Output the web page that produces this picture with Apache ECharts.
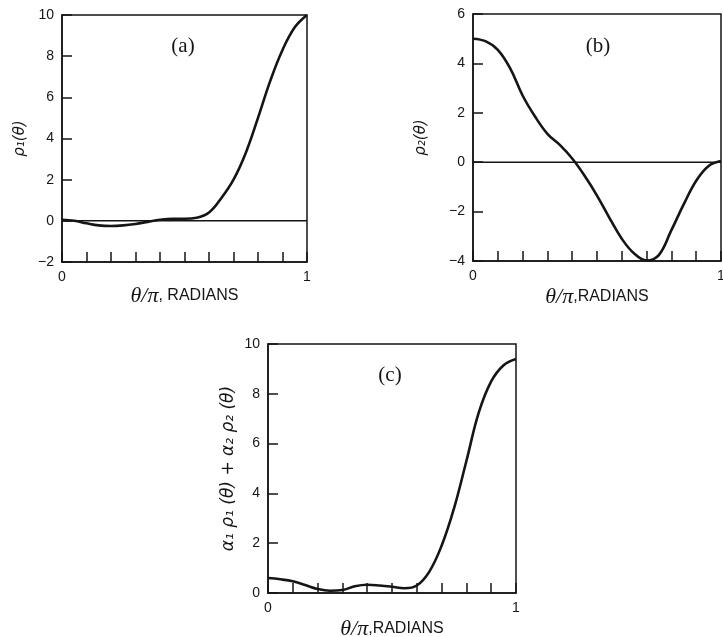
<!DOCTYPE html>
<html>
<head>
<meta charset="utf-8">
<script src="https://cdn.jsdelivr.net/npm/echarts/dist/echarts.min.js"></script>
<style>
html,body{margin:0;padding:0;background:#fff;}
#chart{width:723px;height:637px;}
</style>
</head>
<body>
<div id="chart"></div>
<script>
// ---- data ----
var thetaOverPi = [0, 0.05, 0.1, 0.15, 0.2, 0.25, 0.3, 0.35, 0.4, 0.45, 0.5,
                   0.55, 0.6, 0.65, 0.7, 0.75, 0.8, 0.85, 0.9, 0.95, 1.0];
var p1Values = [0.05, 0.0, -0.12, -0.22, -0.25, -0.22, -0.15, -0.05, 0.05, 0.1, 0.1,
                0.15, 0.4, 1.1, 2.0, 3.3, 5.0, 6.8, 8.3, 9.4, 10.0];
var p2Values = [5.0, 4.9, 4.55, 3.8, 2.7, 1.85, 1.15, 0.7, 0.15, -0.55, -1.35,
                -2.25, -3.1, -3.7, -3.98, -3.75, -2.75, -1.7, -0.75, -0.15, 0.05];
var comboValues = [0.6, 0.55, 0.47, 0.32, 0.16, 0.09, 0.12, 0.27, 0.33, 0.3, 0.25,
                   0.19, 0.3, 0.85, 1.9, 3.4, 5.3, 7.25, 8.5, 9.15, 9.4];
var panelLabels = ['(a)', '(b)', '(c)'];
var yNames = ['ρ₁(θ)', 'ρ₂(θ)', 'α₁ ρ₁ (θ) + α₂ ρ₂ (θ)'];
var yRanges = [[-2, 10], [-4, 6], [0, 10]];

function pairs(xs, ys) { return xs.map(function (x, i) { return [x, ys[i]]; }); }

var ink = '#151515';
var tickFont = { color: ink, fontFamily: 'Liberation Sans, Arial, sans-serif', fontSize: 14 };

var grids = [
  { left: 62, top: 15, width: 245, height: 247 },
  { left: 473, top: 14, width: 248, height: 247 },
  { left: 268, top: 344, width: 248, height: 249 }
];
grids.forEach(function (g) {
  g.show = true; g.borderColor = ink; g.borderWidth = 1.5; g.backgroundColor = '#fff';
  g.containLabel = false; g.outerBoundsMode = 'none';
});

var xNameGaps = [23, 25, 25];
var xNames = ['{t|θ/π}{r|, RADIANS}', '{t|θ/π}{r|,RADIANS}', '{t|θ/π}{r|,RADIANS}'];
var yNameGaps = [34, 44, 31];
var yNameSizes = [15, 15, 17];

var xAxes = [0, 1, 2].map(function (i) {
  return {
    type: 'value', gridIndex: i, min: 0, max: 1, interval: 0.1,
    name: xNames[i], nameLocation: 'middle', nameGap: xNameGaps[i],
    nameTextStyle: {
      color: ink,
      rich: {
        t: { fontFamily: 'Liberation Serif, serif', fontStyle: 'italic', fontSize: 22, color: ink },
        r: { fontFamily: 'Liberation Sans, Arial, sans-serif', fontSize: 16, color: ink }
      }
    },
    axisLine: { onZero: false, lineStyle: { color: ink, width: 1.5 } },
    axisTick: { inside: true, length: 10, lineStyle: { color: ink, width: 1.5 } },
    axisLabel: Object.assign({ margin: 8, formatter: function (v) {
      if (Math.abs(v) < 1e-9) return '0';
      if (Math.abs(v - 1) < 1e-9) return '1';
      return '';
    } }, tickFont),
    splitLine: { show: false }
  };
});

var yAxes = [0, 1, 2].map(function (i) {
  return {
    type: 'value', gridIndex: i, min: yRanges[i][0], max: yRanges[i][1], interval: 2,
    name: yNames[i], nameLocation: 'middle', nameGap: yNameGaps[i], nameRotate: 90,
    nameTextStyle: { color: ink, fontFamily: 'DejaVu Sans, sans-serif', fontSize: yNameSizes[i], fontStyle: 'italic' },
    axisLine: { onZero: false, lineStyle: { color: ink, width: 1.5 } },
    axisTick: { inside: true, length: 10, lineStyle: { color: ink, width: 1.5 } },
    axisLabel: Object.assign({ margin: 8, formatter: function (v) { return String(v).replace('-', '\u2212'); } }, tickFont),
    splitLine: { show: false }
  };
});

function curve(i, values) {
  return {
    type: 'line', xAxisIndex: i, yAxisIndex: i, data: pairs(thetaOverPi, values),
    smooth: 0.4, showSymbol: false, symbol: 'none',
    lineStyle: { color: ink, width: 2.6 }, z: 5
  };
}
function zeroLine(i) {
  return {
    type: 'line', xAxisIndex: i, yAxisIndex: i, data: [[0, 0], [1, 0]],
    showSymbol: false, symbol: 'none', lineStyle: { color: ink, width: 1.5 }, z: 4
  };
}

var labelPos = [[183, 46], [598, 46], [390, 375]];
var graphics = labelPos.map(function (p, i) {
  return {
    type: 'text', x: p[0], y: p[1],
    style: { text: panelLabels[i], fill: ink, font: '21px "Liberation Serif", serif',
             textAlign: 'center', textVerticalAlign: 'middle' }
  };
});

var chart = echarts.init(document.getElementById('chart'), null, { renderer: 'canvas' });
chart.setOption({
  animation: false,
  backgroundColor: '#fff',
  grid: grids,
  xAxis: xAxes,
  yAxis: yAxes,
  graphic: graphics,
  series: [zeroLine(0), zeroLine(1), curve(0, p1Values), curve(1, p2Values), curve(2, comboValues)]
});
</script>
</body>
</html>
